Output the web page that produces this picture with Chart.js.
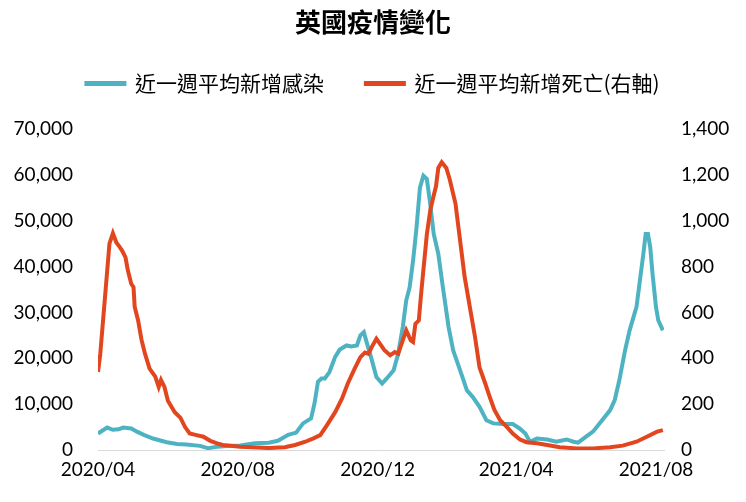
<!DOCTYPE html>
<html>
<head>
<meta charset="utf-8">
<script src="https://cdn.jsdelivr.net/npm/chart.js@4.4.0/dist/chart.umd.min.js"></script>
<style>
  html, body { margin: 0; padding: 0; background: #fff; }
</style>
</head>
<body>
<canvas id="ukChart" width="746" height="502"></canvas>
<script>
// days counted from 2020-04-01
const tickDays = [0, 122, 244, 365, 487];
const tickLabels = ['2020/04', '2020/08', '2020/12', '2021/04', '2021/08'];

const caseDays = [0, 8, 13, 18, 22, 29, 34, 40, 48, 60, 69, 77, 89, 96, 104, 115, 124, 137, 149, 157,
  166, 173, 179, 186, 189, 192, 195, 198, 202, 207, 211, 217, 221, 226, 229, 232, 234, 239, 243, 248,
  252, 258, 262, 266, 269, 272, 275, 278, 281, 284, 287, 290, 293, 297, 301, 306, 310, 316, 322, 327,
  333, 339, 345, 354, 362, 368, 373, 377, 383, 392, 400, 409, 415, 419, 426, 432, 440, 447, 451, 455,
  460, 464, 470, 473, 476, 478, 480, 482, 484, 487, 489, 493];
const caseValues = [3600, 4900, 4400, 4500, 4900, 4700, 4000, 3300, 2500, 1700, 1300, 1200, 900, 400, 700, 900, 1000, 1450, 1600, 2000,
  3300, 3800, 5800, 6900, 10200, 14900, 15600, 15600, 17000, 20300, 21900, 22800, 22600, 22800, 25000, 25700, 23900, 19600, 15900, 14500,
  15600, 17400, 21000, 26800, 32600, 35500, 41300, 48500, 57200, 59800, 59100, 53600, 47100, 42800, 35500, 26800, 21700, 17400, 13000, 11600,
  9400, 6500, 5800, 5650, 5650, 4700, 3600, 1800, 2500, 2300, 1800, 2300, 1800, 1600, 2900, 4000, 6500, 8700, 10900, 15200,
  21700, 26100, 31200, 37000, 42800, 47100, 47100, 44200, 38400, 31200, 28300, 26100];

const deathDays = [0, 2, 5, 8, 10, 13, 16, 19, 21, 24, 26, 29, 31, 32, 35, 38, 41, 45, 50, 53,
  55, 58, 61, 64, 67, 72, 76, 80, 86, 92, 98, 104, 109, 118, 124, 134, 149, 163, 172, 181,
  188, 194, 200, 207, 213, 218, 224, 229, 233, 236, 239, 243, 248, 250, 255, 259, 262, 266, 269, 273,
  275, 277, 280, 282, 284, 287, 290, 293, 295, 297, 300, 304, 307, 312, 316, 320, 325, 329, 333, 338,
  342, 346, 351, 357, 362, 368, 374, 383, 392, 403, 418, 432, 447, 458, 470, 479, 488, 493];
const deathValues = [340, 420, 600, 780, 900, 945, 905, 885, 870, 840, 785, 725, 710, 625, 565, 480, 420, 355, 320, 275,
  305, 275, 215, 190, 165, 140, 100, 72, 65, 58, 40, 29, 22, 17, 14, 12, 9, 12, 22, 36,
  51, 65, 110, 165, 225, 290, 355, 405, 425, 420, 450, 485, 450, 435, 413, 427, 420, 478, 522, 478,
  471, 550, 565, 680, 785, 940, 1045, 1110, 1150, 1230, 1255, 1230, 1180, 1075, 915, 755, 610, 495, 360, 290,
  230, 175, 130, 100, 72, 47, 34, 29, 22, 12, 7, 7, 12, 19, 36, 58, 80, 87];

const teal = '#4DB3C3';
const red = '#E2461F';
const cjk = "'Noto Sans CJK TC', 'Noto Sans', sans-serif";
const num = "Lato, 'Noto Sans', sans-serif";

// extra room between the legend and the plot
const legendSpacer = {
  id: 'legendSpacer',
  beforeInit(chart) {
    const fit = chart.legend.fit;
    chart.legend.fit = function () {
      fit.call(this);
      this.height += 25;
    };
  }
};

const toPoints = (days, vals) => days.map((d, i) => ({ x: d, y: vals[i] }));

new Chart(document.getElementById('ukChart').getContext('2d'), {
  type: 'line',
  data: {
    datasets: [
      {
        label: '近一週平均新增感染',
        data: toPoints(caseDays, caseValues),
        borderColor: teal,
        backgroundColor: teal,
        borderWidth: 4,
        pointRadius: 0,
        tension: 0,
        yAxisID: 'y',
        order: 1
      },
      {
        label: '近一週平均新增死亡(右軸)',
        data: toPoints(deathDays, deathValues),
        borderColor: red,
        backgroundColor: red,
        borderWidth: 4,
        pointRadius: 0,
        tension: 0,
        yAxisID: 'y1',
        order: 0
      }
    ]
  },
  options: {
    responsive: false,
    animation: false,
    layout: { padding: 0 },
    plugins: {
      title: {
        display: true,
        text: '英國疫情變化',
        color: '#000',
        font: { family: cjk, size: 26, weight: 'bold', lineHeight: 1 },
        padding: { top: 9, bottom: -4 }
      },
      legend: {
        display: true,
        labels: {
          color: '#000',
          font: { family: cjk, size: 21 },
          boxWidth: 38,
          boxHeight: 1,
          padding: 42,
          sort: (a, b) => a.datasetIndex - b.datasetIndex
        }
      },
      tooltip: { enabled: false }
    },
    scales: {
      x: {
        type: 'linear',
        min: 0,
        max: 494,
        afterBuildTicks: s => { s.ticks = tickDays.map(v => ({ value: v })); },
        afterFit: s => { s.height = 52; },
        ticks: {
          autoSkip: false,
          maxRotation: 0,
          padding: 8,
          color: '#000',
          font: { family: num, size: 19 },
          callback: v => tickLabels[tickDays.indexOf(v)]
        },
        grid: { display: false, drawTicks: false },
        border: { display: true, color: '#d9d9d9', width: 1 }
      },
      y: {
        position: 'left',
        min: 0,
        max: 70000,
        afterFit: s => { s.width = 98; },
        ticks: {
          stepSize: 10000,
          padding: 25,
          color: '#000',
          font: { family: num, size: 19 }
        },
        grid: { display: false, drawTicks: false },
        border: { display: false }
      },
      y1: {
        position: 'right',
        min: 0,
        max: 1400,
        afterFit: s => { s.width = 82; },
        ticks: {
          stepSize: 200,
          padding: 17,
          color: '#000',
          font: { family: num, size: 19 }
        },
        grid: { display: false, drawTicks: false },
        border: { display: false }
      }
    }
  },
  plugins: [legendSpacer]
});
</script>
</body>
</html>
